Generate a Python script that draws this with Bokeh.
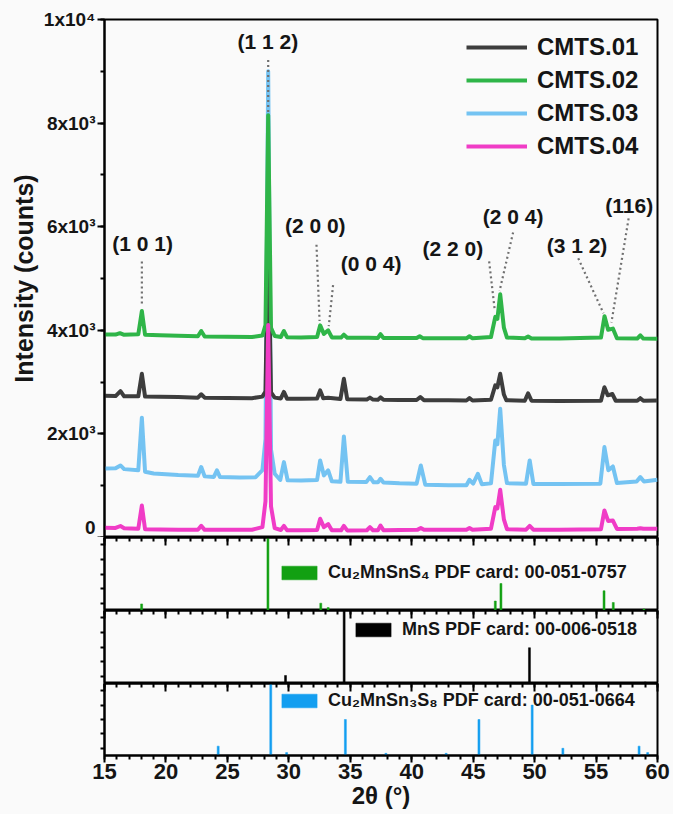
from bokeh.plotting import figure
from bokeh.models import (ColumnDataSource, Range1d, LinearAxis, FixedTicker,
                          Legend, LegendItem)
from bokeh.layouts import column
from bokeh.embed import file_html
from bokeh.resources import INLINE
from bokeh.core.properties import value

FONT = "Liberation Sans"
BG = "#fafafa"
INK = "#151515"

# ---------------- XRD patterns: (2theta [deg], intensity [counts]) ----------------
cmts01 = [(15.0, 2735), (15.9, 2730), (16.3, 2827), (16.6, 2725), (17.75, 2725), (18.04, 3160),
          (18.3, 2720), (19.5, 2715), (21.0, 2710), (22.6, 2700), (22.87, 2765), (23.15, 2700),
          (25.0, 2695), (27.0, 2690), (27.85, 2720), (28.1, 2820), (28.32, 5970), (28.55, 2800),
          (28.85, 2700), (29.35, 2685), (29.6, 2810), (29.85, 2680), (31.0, 2680), (32.3, 2685),
          (32.55, 2840), (32.8, 2690), (33.2, 2700), (34.2, 2675), (34.48, 3065), (34.75, 2670),
          (36.35, 2665), (36.6, 2700), (36.85, 2662), (37.25, 2660), (37.46, 2705), (37.7, 2658),
          (39.0, 2655), (40.4, 2655), (40.7, 2712), (41.0, 2650), (43.0, 2648), (44.45, 2645),
          (44.7, 2690), (44.95, 2645), (46.45, 2660), (46.8, 2938), (46.97, 2900), (47.2, 3160),
          (47.5, 2760), (47.7, 2650), (49.2, 2640), (49.47, 2782), (49.75, 2640), (52.0, 2635),
          (55.4, 2642), (55.68, 2900), (55.95, 2745), (56.33, 2770), (56.6, 2640), (58.35, 2640),
          (58.6, 2690), (58.85, 2640), (60.0, 2647)]

cmts02 = [(15.0, 3920), (15.9, 3918), (16.25, 3945), (16.55, 3915), (17.75, 3925), (18.04, 4372),
          (18.3, 3915), (19.5, 3905), (21.0, 3895), (22.6, 3885), (22.87, 3986), (23.15, 3880),
          (25.0, 3875), (27.0, 3870), (27.85, 3900), (28.1, 4100), (28.32, 8150), (28.55, 4050),
          (28.85, 3890), (29.35, 3870), (29.6, 3986), (29.85, 3868), (31.0, 3862), (32.3, 3870),
          (32.55, 4095), (32.85, 3930), (33.2, 4000), (33.5, 3862), (34.25, 3860), (34.48, 3915),
          (34.75, 3858), (36.5, 3855), (37.25, 3852), (37.46, 3925), (37.7, 3850), (39.0, 3850),
          (40.4, 3850), (40.65, 3885), (40.9, 3848), (43.0, 3845), (44.45, 3845), (44.7, 3885),
          (44.95, 3845), (46.45, 3870), (46.8, 4260), (46.97, 4220), (47.2, 4698), (47.5, 4050),
          (47.75, 3860), (49.2, 3845), (49.47, 3880), (49.75, 3842), (52.0, 3840), (55.4, 3860),
          (55.69, 4273), (55.98, 4010), (56.37, 4033), (56.7, 3845), (58.35, 3840), (58.6, 3904),
          (58.85, 3840), (60.0, 3838)]

cmts03 = [(15.0, 1330), (15.9, 1335), (16.3, 1391), (16.6, 1320), (17.75, 1300), (18.04, 2312),
          (18.3, 1270), (19.0, 1235), (21.0, 1205), (22.6, 1190), (22.87, 1360), (23.15, 1180),
          (23.9, 1170), (24.15, 1295), (24.4, 1166), (26.0, 1160), (27.3, 1165), (27.85, 1300),
          (28.1, 1900), (28.32, 9000), (28.55, 1700), (28.85, 1230), (29.3, 1110), (29.6, 1455),
          (29.9, 1105), (31.0, 1100), (32.3, 1110), (32.55, 1488), (32.85, 1200), (33.2, 1295),
          (33.5, 1085), (34.2, 1075), (34.48, 1951), (34.8, 1075), (36.3, 1070), (36.6, 1166),
          (36.9, 1065), (37.25, 1065), (37.46, 1134), (37.7, 1060), (39.0, 1045), (40.4, 1040),
          (40.74, 1391), (41.1, 1020), (43.0, 1010), (44.45, 1010), (44.7, 1114), (45.0, 1040),
          (45.38, 1230), (45.7, 1030), (46.45, 1045), (46.8, 1874), (46.97, 1800), (47.2, 2486),
          (47.5, 1400), (47.75, 1050), (49.3, 1040), (49.6, 1488), (49.9, 1035), (52.0, 1035),
          (55.35, 1040), (55.68, 1745), (56.0, 1300), (56.37, 1372), (56.7, 1050), (58.3, 1080),
          (58.6, 1166), (58.9, 1080), (60.0, 1114)]

cmts04 = [(15.0, 187), (15.9, 185), (16.3, 222), (16.6, 180), (17.75, 170), (18.04, 618),
          (18.3, 160), (19.5, 155), (21.0, 150), (22.6, 150), (22.87, 225), (23.15, 148),
          (25.0, 148), (27.0, 150), (27.85, 200), (28.1, 700), (28.32, 4100), (28.55, 600),
          (28.85, 180), (29.35, 145), (29.6, 225), (29.85, 142), (31.0, 140), (32.3, 145),
          (32.55, 361), (32.85, 200), (33.2, 260), (33.5, 140), (34.25, 138), (34.48, 225),
          (34.75, 137), (36.35, 140), (36.6, 200), (36.85, 140), (37.25, 140), (37.46, 230),
          (37.7, 142), (39.0, 145), (40.45, 148), (40.74, 182), (41.0, 148), (43.0, 150),
          (44.45, 150), (44.7, 185), (44.95, 150), (46.45, 170), (46.8, 586), (46.97, 560),
          (47.2, 921), (47.5, 350), (47.75, 160), (49.3, 150), (49.6, 225), (49.9, 150),
          (52.0, 150), (55.4, 160), (55.68, 522), (55.98, 320), (56.37, 328), (56.7, 165),
          (58.35, 170), (58.6, 180), (58.85, 168), (60.0, 169)]

# ---------------- reference cards: line positions and relative intensity ----------------
cms4_2t = [18.02, 28.3, 32.6, 33.2, 46.8, 47.26, 55.65, 56.4, 58.9]
cms4_rel = [9, 100, 10, 4, 13, 37, 27, 11, 2]
mns_2t = [29.73, 34.5, 49.58, 59.0]
mns_rel = [11, 100, 49, 2]
cms8_2t = [24.25, 28.53, 29.82, 34.6, 37.9, 42.8, 45.47, 49.8, 52.3, 58.5, 59.2]
cms8_rel = [13, 100, 4, 50, 3, 3, 50, 70, 10, 13, 4]

# ---------------- reflection labels and their leader lines ----------------
hkl_text = ["(1 0 1)", "(1 1 2)", "(2 0 0)", "(0 0 4)", "(2 2 0)", "(2 0 4)", "(3 1 2)", "(116)"]
hkl_2t = [18.1, 28.3, 32.15, 36.7, 43.35, 48.25, 53.45, 57.7]
hkl_cts = [5680, 9570, 6030, 5290, 5580, 6190, 5640, 6410]
lead_2t0 = [18.04, 28.32, 32.25, 33.6, 46.3, 48.25, 53.55, 57.65]
lead_cts0 = [5330, 9220, 5650, 4870, 5330, 5890, 5390, 6160]
lead_2t1 = [18.04, 28.32, 32.5, 33.25, 46.75, 47.15, 55.6, 56.25]
lead_cts1 = [4480, 8200, 4180, 4080, 4400, 4760, 4330, 4150]

x_ticks = [15, 20, 25, 30, 35, 40, 45, 50, 55, 60]
x_minor = list(range(15, 61))
y_ticks = [0, 2000, 4000, 6000, 8000, 10000]
y_minor = list(range(0, 10001, 1000))
y_tick_labels = ["0", "2x10\u00b3", "4x10\u00b3", "6x10\u00b3", "8x10\u00b3", "1x10\u2074"]

series_names = ["CMTS.01", "CMTS.02", "CMTS.03", "CMTS.04"]
series_colors = {"CMTS.01": "#3d3d3d", "CMTS.02": "#2fb548", "CMTS.03": "#74c3f2", "CMTS.04": "#f03cc6"}
series_data = {"CMTS.01": cmts01, "CMTS.02": cmts02, "CMTS.03": cmts03, "CMTS.04": cmts04}

W = 673
LEFT = 104
RIGHT = 16
x_range = Range1d(15, 60)


def make_fig(height, y_range, top=0, bottom=0):
    p = figure(width=W, height=height, x_range=x_range, y_range=y_range,
               output_backend="svg", toolbar_location=None,
               x_axis_location=None, y_axis_location=None,
               min_border_left=LEFT, min_border_right=RIGHT,
               min_border_top=top, min_border_bottom=bottom,
               background_fill_color=BG, border_fill_color=BG,
               outline_line_color="black", outline_line_width=2)
    p.grid.visible = False
    return p


def style_ticks(ax):
    ax.axis_line_width = 2
    ax.axis_line_color = "black"
    ax.major_tick_line_width = 2
    ax.minor_tick_line_width = 2
    ax.major_tick_line_color = "black"
    ax.minor_tick_line_color = "black"


def tick_only_axis(minor_positions, tick_in, tick_out, line=True):
    """Axis that carries tick marks only (no labels)."""
    ax = LinearAxis(ticker=FixedTicker(ticks=[], minor_ticks=minor_positions))
    style_ticks(ax)
    ax.minor_tick_in = tick_in
    ax.minor_tick_out = tick_out
    ax.major_tick_in = 0
    ax.major_tick_out = 0
    ax.major_label_standoff = 0
    if not line:
        ax.axis_line_color = None
    return ax


# ---------------- main XRD panel ----------------
main = make_fig(537, Range1d(0, 10000), top=19, bottom=0)

yax = LinearAxis(ticker=FixedTicker(ticks=y_ticks, minor_ticks=y_minor),
                 major_label_overrides={t: s for t, s in zip(y_ticks, y_tick_labels)},
                 axis_label="Intensity (counts)")
style_ticks(yax)
yax.major_tick_out = 7
yax.major_tick_in = 0
yax.minor_tick_out = 4
yax.minor_tick_in = 0
yax.major_label_standoff = 2
yax.major_label_text_font = FONT
yax.major_label_text_font_style = "bold"
yax.major_label_text_font_size = "19px"
yax.major_label_text_color = INK
yax.axis_label_text_font = FONT
yax.axis_label_text_font_style = "bold"
yax.axis_label_text_font_size = "25px"
yax.axis_label_text_color = INK
yax.axis_label_standoff = 3
main.add_layout(yax, "left")

renderers = {}
for name in ["CMTS.03", "CMTS.01", "CMTS.02", "CMTS.04"]:
    pts = series_data[name]
    src = ColumnDataSource(dict(tt=[a for a, _ in pts], cts=[b for _, b in pts]))
    renderers[name] = main.line("tt", "cts", source=src, line_color=series_colors[name],
                                line_width=4, line_join="round")

lead_src = ColumnDataSource(dict(x0=lead_2t0, y0=lead_cts0, x1=lead_2t1, y1=lead_cts1))
main.segment("x0", "y0", "x1", "y1", source=lead_src, line_color="#707070",
             line_width=2.2, line_dash="2 3")

lab_src = ColumnDataSource(dict(x=hkl_2t, y=hkl_cts, text=hkl_text))
main.text("x", "y", text="text", source=lab_src, text_font=value(FONT),
          text_font_style="bold", text_font_size="21px", text_align="center",
          text_baseline="middle", text_color=INK)

legend = Legend(items=[LegendItem(label=n, renderers=[renderers[n]]) for n in series_names],
                location=(362, 377), padding=0, margin=0, spacing=5,
                glyph_width=61, glyph_height=26, label_height=26, label_standoff=10,
                label_text_font=FONT, label_text_font_style="bold",
                label_text_font_size="24px", label_text_color=INK,
                border_line_alpha=0, background_fill_alpha=0)
main.add_layout(legend)


# ---------------- reference card panels ----------------
def card_panel(height, positions, rel, color, label, loc, bottom=0, with_xlabels=False):
    p = make_fig(height, Range1d(0, 100), top=0, bottom=bottom)

    # inward ticks along the shared edge with the panel above
    p.add_layout(tick_only_axis(x_minor, 4, 0), "above")
    p.add_layout(tick_only_axis(x_ticks, 8, 0, line=False), "above")
    p.add_layout(tick_only_axis([10, 30, 50, 70, 90], 0, 4), "left")

    if with_xlabels:
        bx = LinearAxis(ticker=FixedTicker(ticks=x_ticks, minor_ticks=x_minor),
                        axis_label="2\u03b8 (\u00b0)")
        style_ticks(bx)
        bx.major_tick_out = 7
        bx.major_tick_in = 0
        bx.minor_tick_out = 4
        bx.minor_tick_in = 0
        bx.major_label_standoff = 1
        bx.major_label_text_font = FONT
        bx.major_label_text_font_style = "bold"
        bx.major_label_text_font_size = "22px"
        bx.major_label_text_color = INK
        bx.axis_label_text_font = FONT
        bx.axis_label_text_font_style = "bold"
        bx.axis_label_text_font_size = "24px"
        bx.axis_label_text_color = INK
        bx.axis_label_standoff = 0
        p.add_layout(bx, "below")

    src = ColumnDataSource(dict(tt=positions, rel=rel))
    r = p.vbar(x="tt", top="rel", bottom=0, width=0.16, source=src,
               fill_color=color, line_color=color, line_width=0.5)
    lg = Legend(items=[LegendItem(label=label, renderers=[r])], location=loc,
                padding=0, margin=0, glyph_width=44, glyph_height=17, label_height=17,
                label_standoff=7, label_text_font=FONT, label_text_font_style="bold",
                label_text_font_size="18px", label_text_color=INK,
                border_line_alpha=0, background_fill_alpha=0)
    p.add_layout(lg)
    return p


card1 = card_panel(73, cms4_2t, cms4_rel, "#12a012",
                   "Cu\u2082MnSnS\u2084 PDF card: 00-051-0757", (173, 27))
card2 = card_panel(73, mns_2t, mns_rel, "#000000",
                   "MnS PDF card: 00-006-0518", (247, 43))
card3 = card_panel(131, cms8_2t, cms8_rel, "#139ef0",
                   "Cu\u2082MnSn\u2083S\u2088 PDF card: 00-051-0664", (173, 44),
                   bottom=59, with_xlabels=True)

layout = column(main, card1, card2, card3, spacing=0, background=BG)

open("out.html", "w").write(file_html(layout, INLINE))
